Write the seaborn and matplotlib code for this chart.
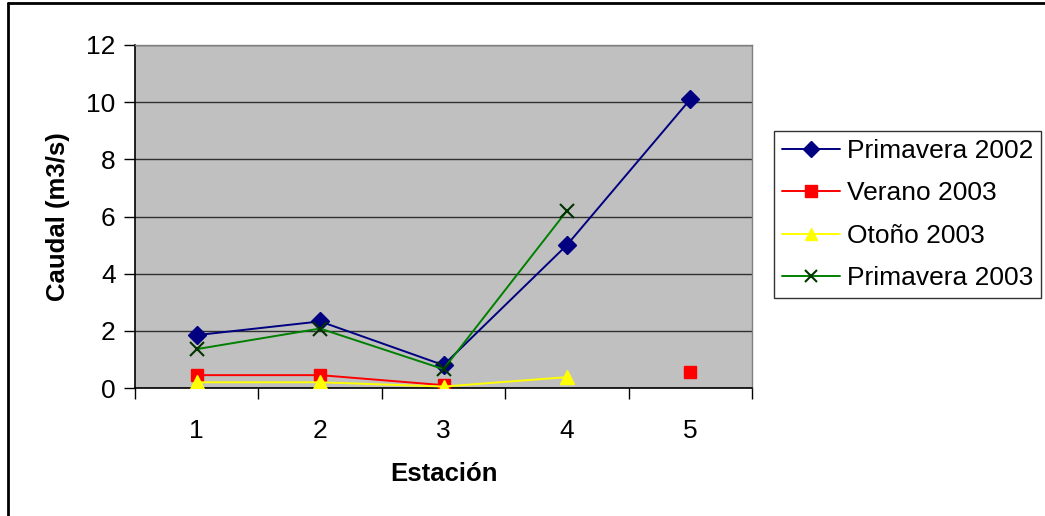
import numpy as np
import pandas as pd
import matplotlib
matplotlib.use("Agg")
import matplotlib.pyplot as plt
from matplotlib.lines import Line2D
import seaborn as sns

# Flow per station for each campaign (NaN = no measurement)
estaciones = [1, 2, 3, 4, 5]
primavera_2002 = [1.85, 2.33, 0.80, 5.0, 10.1]
verano_2003 = [0.45, 0.45, 0.10, np.nan, 0.55]
otono_2003 = [0.20, 0.20, 0.05, 0.38, np.nan]
primavera_2003 = [1.36, 2.08, 0.66, 6.2, np.nan]

series = [
    ("Primavera 2002", primavera_2002, "#000080", "D", "#000080", 9),
    ("Verano 2003", verano_2003, "#FF0000", "s", "#FF0000", 9),
    ("Otoño 2003", otono_2003, "#FFFF00", "^", "#FFFF00", 10),
    ("Primavera 2003", primavera_2003, "#008000", "x", "#003300", 10),
]

sns.set_theme(style="white")
plt.rcParams["font.family"] = ["Liberation Sans", "DejaVu Sans"]
plt.rcParams["text.color"] = "black"
plt.rcParams["axes.labelcolor"] = "black"
plt.rcParams["xtick.color"] = "black"
plt.rcParams["ytick.color"] = "black"

fig = plt.figure(figsize=(10.45, 5.16), dpi=100)
ax = fig.add_axes([135 / 1045, 1 - 388 / 516, (752 - 135) / 1045, (388 - 45) / 516])
ax.set_facecolor("#C0C0C0")

handles = []
for name, vals, lc, mk, mc, ms in series:
    df = pd.DataFrame({"Estación": estaciones, "Caudal": vals})
    # split into contiguous runs so missing stations leave a gap
    df["tramo"] = df["Caudal"].isna().cumsum()
    df = df.dropna()
    sns.lineplot(data=df, x="Estación", y="Caudal", units="tramo", estimator=None,
                 color=lc, lw=1.4, marker=mk, markersize=ms,
                 markerfacecolor=mc, markeredgecolor=mc,
                 markeredgewidth=1.5 if mk == "x" else 1, ax=ax, legend=False,
                 zorder=3)
    handles.append(Line2D([0], [0], color=lc, lw=1.4, marker=mk,
                          markersize=ms * 0.9, markerfacecolor=mc,
                          markeredgecolor=mc,
                          markeredgewidth=1.5 if mk == "x" else 1))

ax.set_xlim(0.5, 5.5)
ax.set_ylim(0, 12)
ax.set_yticks(np.arange(0, 13, 2))
ax.set_xticks(np.arange(0.5, 6, 1))
ax.set_xticklabels([])
ax.set_xticks(estaciones, minor=True)
ax.set_xticklabels([str(e) for e in estaciones], minor=True)
ax.tick_params(axis="x", which="minor", length=0, pad=22, labelsize=19)
ax.tick_params(axis="x", which="major", direction="out", length=8, width=1,
               color="#000000", bottom=True)
ax.tick_params(axis="y", direction="out", length=8, width=1, color="#000000",
               left=True, labelsize=19, pad=6)
ax.grid(axis="y", color="#303030", lw=1)
ax.grid(axis="x", visible=False)
ax.set_axisbelow(True)

for side in ("left", "bottom"):
    ax.spines[side].set_color("#000000")
    ax.spines[side].set_linewidth(1.2)
for side in ("top", "right"):
    ax.spines[side].set_color("#808080")
    ax.spines[side].set_linewidth(1)

ax.set_xlabel("Estación", fontsize=18.5, fontweight="bold", labelpad=14)
ax.set_ylabel("Caudal (m3/s)", fontsize=18.5, fontweight="bold", labelpad=12)

leg = fig.legend(handles, [s[0] for s in series], loc="upper left",
                 bbox_to_anchor=(774 / 1045, 1 - 131 / 516),
                 frameon=True, fancybox=False, fontsize=19, handlelength=2.2,
                 handletextpad=0.25, labelspacing=0.7, borderpad=0.3,
                 borderaxespad=0)
leg.get_frame().set_edgecolor("#000000")
leg.get_frame().set_linewidth(1)

# chart frame lines along the top and left edges
fig.add_artist(Line2D([8 / 1045, 1], [1 - 3 / 516, 1 - 3 / 516], color="black",
                      lw=2, transform=fig.transFigure))
fig.add_artist(Line2D([8 / 1045, 8 / 1045], [0, 1 - 3 / 516], color="black",
                      lw=2, transform=fig.transFigure))

fig.savefig("out.png", dpi=100, facecolor="white")
